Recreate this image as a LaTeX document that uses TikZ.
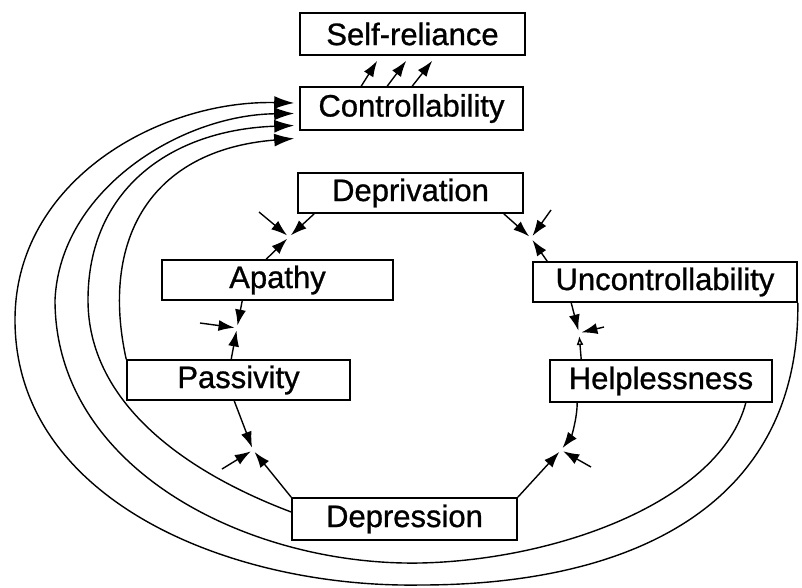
\documentclass[tikz,border=0pt]{standalone}
\usepackage{fontspec}
\setmainfont{Liberation Sans}
\newfontfamily\labfont{Liberation Sans}[BoldFont={Liberation Sans}, BoldFeatures={FakeBold=0.9}]
\usetikzlibrary{arrows.meta,calc}
\begin{document}
\begin{tikzpicture}[x=1pt,y=-1pt,
  box/.style={draw, line width=1.6pt, inner sep=0pt, font=\labfont\bfseries\fontsize{31}{36}\selectfont},
  con/.style={line width=1.4pt, -{Latex[length=16pt,width=11pt]}, shorten >=2.5pt},
  big/.style={line width=1.4pt, -{Latex[length=20pt,width=13pt]}}]
\useasboundingbox (0,0) rectangle (802,587);

% boxes
\node[box, minimum width=225pt, minimum height=42pt] (sr) at (412.5,34) {Self-reliance};
\node[box, minimum width=223pt, minimum height=43pt] (co) at (411.5,108.5) {Controllability};
\node[box, minimum width=225pt, minimum height=40pt] (dep) at (410.5,193) {Deprivation};
\node[box, minimum width=231pt, minimum height=40pt] (ap) at (277.5,280) {Apathy};
\node[box, minimum width=264pt, minimum height=40pt] (uc) at (665,282) {Uncontrollability};
\node[box, minimum width=223pt, minimum height=40pt] (pa) at (238.5,380) {Passivity};
\node[box, minimum width=222pt, minimum height=42pt] (hp) at (661,381) {Helplessness};
\node[box, minimum width=225pt, minimum height=42pt] (de) at (404.5,519) {Depression};

% controllability -> self-reliance
\draw[con, shorten >=0pt] ($(co.north west)+(62,0)$) -- ($(sr.south west)+(78,5)$);
\draw[con, shorten >=0pt] ($(co.north west)+(88,0)$) -- ($(sr.south west)+(107,5)$);
\draw[con, shorten >=0pt] ($(co.north west)+(113,0)$) -- ($(sr.south west)+(133,5)$);

% junctions
\coordinate (j1) at (289,237);
\coordinate (o1) at (259,212);
\coordinate (j2) at (531,238);
\coordinate (o2) at (551,210);
\coordinate (j3) at (237,328);
\coordinate (o3) at (200,323);
\coordinate (j4) at (579,333);
\coordinate (o4) at (604,327);
\coordinate (j5) at (253,450);
\coordinate (o5) at (222,469);
\coordinate (j6) at (561,450);
\coordinate (o6) at (591,467);

\draw[con] ($(dep.south west)+(17,0)$) -- (j1);
\draw[con] (o1) -- (j1);
\draw[con] ($(ap.north west)+(105,0)$) -- (j1);

\draw[con] ($(dep.south east)+(-20,0)$) -- (j2);
\draw[con] (o2) -- (j2);
\draw[con] ($(uc.north west)+(15,0)$) -- (j2);

\draw[con] ($(ap.south west)+(81,0)$) -- (j3);
\draw[con] (o3) -- (j3);
\draw[con] ($(pa.north west)+(105,0)$) -- (j3);

\draw[con] ($(uc.south west)+(39,0)$) -- (j4);
\draw[con] (o4) -- (j4);
\draw[line width=1.4pt, -{Latex[length=9pt,width=7pt,open]}, shorten >=3pt] ($(hp.north west)+(32,0)$) -- (j4);

\draw[con] ($(pa.south west)+(108,0)$) -- (j5);
\draw[con] (o5) -- (j5);
\draw[con] (de.north west) -- (j5);

\draw[con] (de.north east) -- (j6);
\draw[con] (o6) -- (j6);
\draw[con] ($(hp.south west)+(28,0)$) .. controls (577,420) and (571,437) .. (j6);

% big feedback curves to controllability
\draw[big] (uc.south east) .. controls (800,500) and (640,585) .. (420,585)
  .. controls (230,588) and (15,500) .. (15,320)
  .. controls (15,180) and (160,100) .. ($(co.west)+(-5,-5.5)$);
\draw[big] ($(hp.south east)+(-27,0)$) .. controls (720,500) and (560,560) .. (420,563)
  .. controls (250,566) and (55,470) .. (55,300)
  .. controls (60,190) and (180,115) .. ($(co.west)+(-5,5)$);
\draw[big] ($(de.west)+(0,-7)$) .. controls (180,470) and (88,400) .. (88,300)
  .. controls (88,190) and (170,130) .. ($(co.west)+(-5,17)$);
\draw[big] (pa.north west) .. controls (100,240) and (150,150) .. ($(co.west)+(-5,30)$);
\end{tikzpicture}
\end{document}
